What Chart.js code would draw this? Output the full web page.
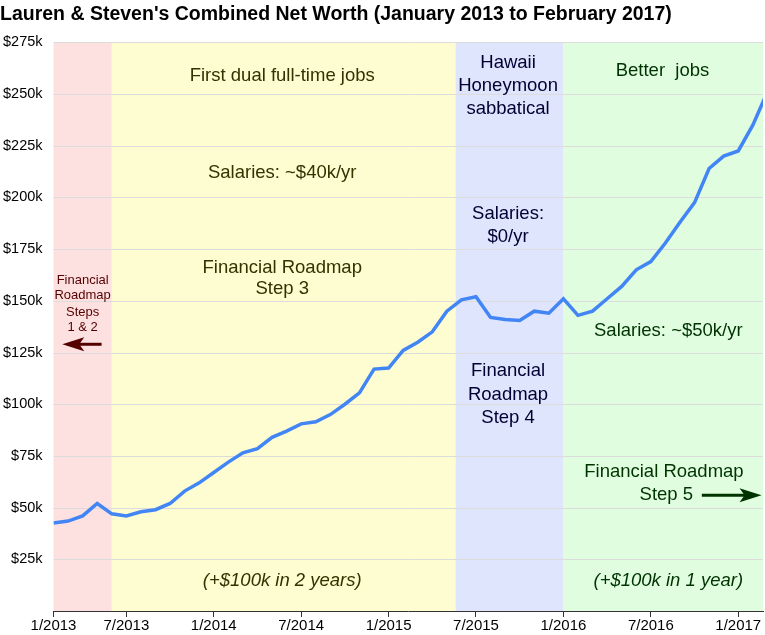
<!DOCTYPE html>
<html><head><meta charset="utf-8">
<script src="https://cdn.jsdelivr.net/npm/chart.js"></script>
<style>body{margin:0;background:#fff}#w{width:765px;height:635px;position:relative}</style>
</head><body><div id="w"><canvas id="c"></canvas></div>
<script>
const months = [1,2,3,4,5,6,7,8,9,10,11,12,13,14,15,16,17,18,19,20,21,22,23,24,25,26,27,28,29,30,31,32,33,34,35,36,37,38,39,40,41,42,43,44,45,46,47,48,49,50];
const netWorth = [42600,43500,46000,52000,47000,46000,48000,49000,52000,58000,62000,67000,72000,76500,78500,84000,87000,90500,91500,95000,100000,105500,117000,117500,126000,130000,135000,145000,150500,152000,142000,141000,140500,145000,144000,151000,143000,145000,151000,157000,165000,169000,178000,188000,197500,214000,220000,222500,235000,251000];
const tickMonths = [1,6,12,18,24,30,36,42,48];
const tickLabels = ['1/2013','7/2013','1/2014','7/2014','1/2015','7/2015','1/2016','7/2016','1/2017'];
const regions = [[0,5,'#fde0e0'],[5,28.6,'#fefdd2'],[28.6,36,'#dfe5fd'],[36,60,'#e0fde0']];
const F = 'Liberation Sans, Arial, sans-serif';
const S = 18.5;
// [text, month, value, color, size, align, italic]
const notes = [
 ['First dual full-time jobs',16.7,259000,'#333300',S,'center',false],
 ['Salaries: ~$40k/yr',16.7,212000,'#333300',S,'center',false],
 ['Financial Roadmap',16.7,166000,'#333300',S,'center',false],
 ['Step 3',16.7,156000,'#333300',S,'center',false],
 ['(+$100k in 2 years)',16.7,14500,'#333300',S,'center',true],
 ['Financial',3,160000,'#550000',13,'center',false],
 ['Roadmap',3,152500,'#550000',13,'center',false],
 ['Steps',3,144500,'#550000',13,'center',false],
 ['1 & 2',3,137000,'#550000',13,'center',false],
 ['Hawaii',32.2,265000,'#000033',S,'center',false],
 ['Honeymoon',32.2,254000,'#000033',S,'center',false],
 ['sabbatical',32.2,243000,'#000033',S,'center',false],
 ['Salaries:',32.2,192000,'#000033',S,'center',false],
 ['$0/yr',32.2,181000,'#000033',S,'center',false],
 ['Financial',32.2,116000,'#000033',S,'center',false],
 ['Roadmap',32.2,104500,'#000033',S,'center',false],
 ['Step 4',32.2,93500,'#000033',S,'center',false],
 ['Better  jobs',42.8,261000,'#003300',S,'center',false],
 ['Salaries: ~$50k/yr',43.2,135500,'#003300',S,'center',false],
 ['Financial Roadmap',42.9,67500,'#003300',S,'center',false],
 ['Step 5',44.9,56000,'#003300',S,'right',false],
 ['(+$100k in 1 year)',43.2,14500,'#003300',S,'center',true]
];
const arrows = [[4.3,1.6,129000,'#550000'],[45.5,49.6,56000,'#003300']];
const deco = {id:'deco',
 beforeDatasetsDraw(ch){const {ctx,chartArea:a,scales:{x,y}}=ch;ctx.save();
  regions.forEach(r=>{const x0=Math.max(a.left,x.getPixelForValue(r[0])),x1=Math.min(a.right,x.getPixelForValue(r[1]));ctx.fillStyle=r[2];ctx.fillRect(x0,a.top,x1-x0,a.bottom-a.top);});
  ctx.strokeStyle='#dcdcdc';ctx.lineWidth=1;
  for(let v=25000;v<=275000;v+=25000){const p=Math.round(y.getPixelForValue(v))+0.5;ctx.beginPath();ctx.moveTo(a.left,p);ctx.lineTo(a.right,p);ctx.stroke();}
  ctx.restore();},
 afterDatasetsDraw(ch){const {ctx,scales:{x,y}}=ch;ctx.save();ctx.textBaseline='middle';
  notes.forEach(n=>{ctx.font=(n[6]?'italic ':'')+n[4]+'px '+F;ctx.fillStyle=n[3];ctx.textAlign=n[5];ctx.fillText(n[0],x.getPixelForValue(n[1]),y.getPixelForValue(n[2]));});
  arrows.forEach(r=>{const x0=x.getPixelForValue(r[0]),x1=x.getPixelForValue(r[1]),p=y.getPixelForValue(r[2]);const d=Math.sign(x1-x0);
   ctx.strokeStyle=r[3];ctx.fillStyle=r[3];ctx.lineWidth=3;ctx.beginPath();ctx.moveTo(x0,p);ctx.lineTo(x1-d*16,p);ctx.stroke();
   ctx.beginPath();ctx.moveTo(x1,p);ctx.lineTo(x1-d*22,p-7);ctx.lineTo(x1-d*17,p);ctx.lineTo(x1-d*22,p+7);ctx.closePath();ctx.fill();});
  ctx.restore();}};
new Chart(document.getElementById('c'),{type:'line',
 data:{datasets:[{data:months.map((m,i)=>({x:m,y:netWorth[i]})),borderColor:'#4285f4',borderWidth:3.5,pointRadius:0,tension:0}]},
 options:{responsive:true,maintainAspectRatio:false,animation:false,
  layout:{padding:{left:0,right:2,top:0,bottom:0}},
  plugins:{legend:{display:false},tooltip:{enabled:false},
   title:{display:true,text:"Lauren & Steven's Combined Net Worth (January 2013 to February 2017)",align:'start',color:'#000',font:{family:F,size:19.5,weight:'bold'},padding:{top:3,bottom:16}}},
  scales:{
   x:{type:'linear',min:1,max:49.7,
    afterBuildTicks(s){s.ticks=tickMonths.map(v=>({value:v}));},
    ticks:{autoSkip:false,maxRotation:0,padding:0,color:'#000',font:{family:F,size:15},callback:(v)=>tickLabels[tickMonths.indexOf(v)]},
    grid:{display:true,drawOnChartArea:false,tickLength:6,color:'#333'},border:{color:'#333'}},
   y:{min:0,max:275000,ticks:{stepSize:25000,padding:3,color:'#000',font:{family:F,size:14.5},callback:v=>v===0?'':'$'+(v/1000)+'k'},
    grid:{display:false},border:{display:false}}}},
 plugins:[deco]});
</script></body></html>
